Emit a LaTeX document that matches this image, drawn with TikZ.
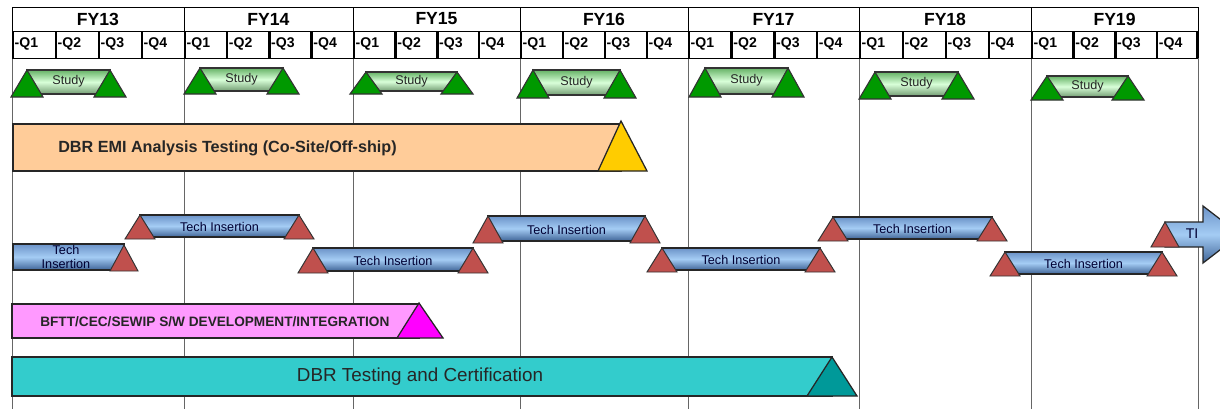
\documentclass[tikz,border=0pt]{standalone}
\usepackage{fontspec}
\setmainfont{Liberation Sans}
\usepackage{xcolor}
\usepackage{tikz}
\usetikzlibrary{calc}

\definecolor{studygreen}{HTML}{009900}
\definecolor{tired}{HTML}{C0504D}
\definecolor{peach}{HTML}{FFCC99}
\definecolor{gold}{HTML}{FFCC00}
\definecolor{pinkbar}{HTML}{FF99FF}
\definecolor{magentatri}{HTML}{FF00FF}
\definecolor{tealbar}{HTML}{33CCCC}
\definecolor{tealtri}{HTML}{009999}
\definecolor{titop}{HTML}{6C93C8}
\definecolor{timid}{HTML}{A4CCF4}
\definecolor{tibot}{HTML}{3F6497}

\tikzset{
	gridline/.style={gray!80!black,line width=0.7pt},
	hdrline/.style={black,line width=0.7pt},
	qedge/.style={black,line width=1.6pt},
	fylabel/.style={font=\fontsize{12.5}{14}\selectfont\bfseries,inner sep=0pt},
	qlabel/.style={font=\fontsize{10}{12}\selectfont\bfseries,anchor=west,inner sep=1pt},
	studybar/.style={draw=black!80,line width=0.9pt,top color=green!50!black!60,bottom color=green!30!black!55,middle color=green!15},
	studytri/.style={draw=black!80,line width=0.8pt,fill=studygreen},
	studytext/.style={font=\fontsize{9}{10}\selectfont,text=black!85,inner sep=0pt},
	tibar/.style={draw=black!85,line width=0.9pt,top color=titop,bottom color=tibot,middle color=timid},
	titri/.style={draw=black!80,line width=0.7pt,fill=tired},
	titext/.style={font=\fontsize{9}{9.5}\selectfont,text=black!80!blue,inner sep=0pt},
	longbar/.style={draw=black!85,line width=0.9pt},
}

\begin{document}
\begin{tikzpicture}[x=0.025cm,y=-0.025cm]
	\useasboundingbox (0,0) rectangle (1220,409);
	\clip (0,0) rectangle (1220,409);
	
	% year grid and header
	\foreach \a/\b/\yr in {12/184/13,184/353/14,353/520/15,520/688/16,688/859/17,859/1031/18,1031/1198/19}{
		\draw[gridline] (\a,58) -- (\a,409);
		\draw[hdrline] (\a,7) -- (\a,58);
		\node[fylabel] (fy\yr) at ({(\a+\b)/2},19) {FY\yr};
		\foreach \q in {1,...,4}{
			\pgfmathsetmacro{\qa}{\a+(\q-1)*(\b-\a)/4}
			\pgfmathsetmacro{\qb}{\a+\q*(\b-\a)/4}
			\draw[hdrline] (\qa,31) rectangle (\qb,58);
			\draw[qedge] (\qa+1,31) -- (\qa+1,58);
			\node[qlabel] (q\yr\q) at (\qa+1,44) {-Q\q};
		}
	}
	\draw[gridline] (1198,58) -- (1198,409);
	\draw[hdrline] (1198,7) -- (1198,58);
	\draw[hdrline] (12,7) -- (1198,7);
	\draw[qedge] (1197,31) -- (1197,58);
	
	% study milestones
	\foreach \l/\r/\t/\b [count=\i] in {27/110/70/97,200/283/68/94,366/457/72/94,533/620/70/98,705/788/68/97,875/958/72/99,1047/1128/76/100}{
		\draw[studybar] (\l,\t) rectangle (\r,\b-3);
		\node[studytext] (study\i) at ({(\l+\r)/2},{(\t+\b)/2-2}) {Study};
		\draw[studytri] (\l-16,\b) -- (\l,\t) -- (\l+16,\b) -- cycle;
		\draw[studytri] (\r-16,\b) -- (\r,\t) -- (\r+16,\b) -- cycle;
	}
	
	% EMI analysis
	\draw[longbar,fill=peach] (13,124) rectangle (621,171);
	\node[font=\fontsize{11.5}{13}\selectfont\bfseries,anchor=west,inner sep=0pt,text=black!85] (emi) at (58,148) {DBR EMI Analysis Testing (Co-Site/Off-ship)};
	\draw[longbar,fill=gold] (598,171) -- (621,121) -- (647,171) -- cycle;
	
	% tech insertions
	\draw[tibar] (13,244) rectangle (124,270);
	\node[titext,align=center] (ti1) at (66,257) {Tech\\Insertion};
	\draw[titri] (110,271) -- (124,245) -- (138,271) -- cycle;
	\foreach \l/\r/\t/\b [count=\i from 2] in {140/299/215/239,313/473/248/273,488/645/216/243,662/820/248/272,833/992/217/241,1005/1162/252/276}{
		\draw[tibar] (\l,\t) rectangle (\r,\b-2);
		\node[titext] (ti\i) at ({(\l+\r)/2},{(\t+\b)/2}) {Tech Insertion};
		\draw[titri] (\l-15,\b) -- (\l,\t) -- (\l+15,\b) -- cycle;
		\draw[titri] (\r-15,\b) -- (\r,\t) -- (\r+15,\b) -- cycle;
	}
	\draw[tibar] (1165,222) -- (1203,222) -- (1203,206) -- (1240,234.5) -- (1203,263) -- (1203,247) -- (1165,247) -- cycle;
	\node[titext,font=\fontsize{10}{11}\selectfont] (ti8) at (1192,234) {TI};
	\draw[titri] (1151,247) -- (1165,222) -- (1179,247) -- cycle;
	
	% S/W development
	\draw[longbar,fill=pinkbar] (12,304) rectangle (419,338);
	\node[font=\fontsize{9.7}{11}\selectfont\bfseries,anchor=west,inner sep=0pt,text=black!85] (bftt) at (40,322) {BFTT/CEC/SEWIP S/W DEVELOPMENT/INTEGRATION};
	\draw[longbar,fill=magentatri] (397,338) -- (419,303) -- (443,338) -- cycle;
	
	% testing and certification
	\draw[longbar,fill=tealbar] (12,357) rectangle (832,396);
	\node[font=\fontsize{13.4}{15}\selectfont,inner sep=0pt,text=black!85] (cert) at (420,377) {DBR Testing and Certification};
	\draw[longbar,fill=tealtri] (807,396) -- (832,357) -- (857,396) -- cycle;
\end{tikzpicture}
\end{document}
